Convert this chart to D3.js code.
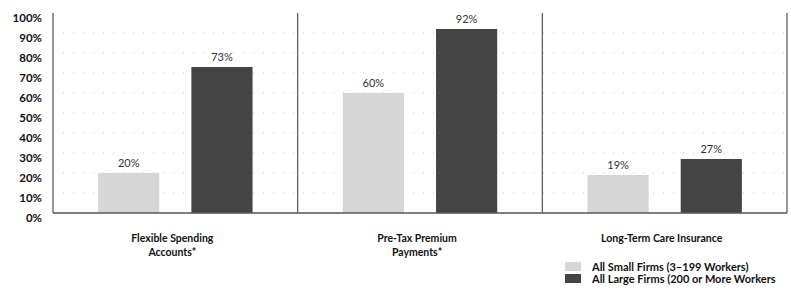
<!DOCTYPE html>
<html>
<head>
<meta charset="utf-8">
<script src="https://cdn.jsdelivr.net/npm/d3@7"></script>
<style>
  body { margin: 0; background: #fff; }
  svg { display: block; font-family: Lato, "Open Sans", sans-serif; }
</style>
</head>
<body>
<svg id="chart" width="791" height="295"></svg>
<script>
// data
const categories = [["Flexible Spending", "Accounts*"], ["Pre-Tax Premium", "Payments*"], ["Long-Term Care Insurance"]];
const seriesNames = ["All Small Firms (3\u2013199 Workers)", "All Large Firms (200 or More Workers"];
const smallFirms = [20, 60, 19];
const largeFirms = [73, 92, 27];
const yTicks = [0, 10, 20, 30, 40, 50, 60, 70, 80, 90, 100];

const colors = ["#d6d6d6", "#444444"];

let svg = d3.select("#chart");

let plotLeft = 53, plotRight = 787, plotTop = 13, plotBottom = 213;

let x0 = d3.scaleBand().domain(d3.range(categories.length)).range([plotLeft, plotRight]);
let x1 = d3.scaleBand().domain([0, 1]).range([0, x0.bandwidth()]).paddingInner(0.344).paddingOuter(0.484);
let y = d3.scaleLinear().domain([0, 100]).range([plotBottom, plotTop]);

// faint dotted grid
svg.append("g").selectAll("line").data(yTicks.filter(d => d > 0 && d < 100)).join("line")
    .attr("x1", plotLeft).attr("x2", plotRight)
    .attr("y1", d => y(d)).attr("y2", d => y(d))
    .attr("stroke", "#c8c8c8").attr("stroke-width", 1)
    .attr("stroke-dasharray", "1 9");

// y axis labels
let yAxis = d3.axisLeft(y).tickValues(yTicks).tickFormat(d => d + "%").tickSize(0).tickPadding(11);
let yg = svg.append("g").attr("transform", `translate(${plotLeft},0)`).call(yAxis);
yg.select("path").remove();
yg.selectAll("text").attr("font-size", 11.5).attr("font-weight", "bold").attr("fill", "#111")
    .attr("font-family", "Lato, sans-serif")
    .attr("dy", "0.75em");

// bars
let rows = categories.map((c, i) => [smallFirms[i], largeFirms[i]]);
let groups = svg.append("g").selectAll("g").data(rows).join("g")
    .attr("transform", (d, i) => `translate(${x0(i)},0)`);

groups.selectAll("rect").data(d => d).join("rect")
    .attr("x", (d, j) => x1(j))
    .attr("y", d => y(d))
    .attr("width", x1.bandwidth())
    .attr("height", d => y(0) - y(d))
    .attr("fill", (d, j) => colors[j]);

groups.selectAll("text").data(d => d).join("text")
    .attr("x", (d, j) => x1(j) + x1.bandwidth() / 2)
    .attr("y", d => y(d) - 6)
    .attr("text-anchor", "middle")
    .attr("font-size", 11)
    .attr("fill", "#333")
    .text(d => d + "%");

// frame: left axis, separators, baseline
svg.append("g").selectAll("line").data(d3.range(categories.length + 1)).join("line")
    .attr("x1", i => i < categories.length ? x0(i) : plotRight)
    .attr("x2", i => i < categories.length ? x0(i) : plotRight)
    .attr("y1", plotTop).attr("y2", plotBottom)
    .attr("stroke", "#555").attr("stroke-width", 1.2);
svg.append("line").attr("x1", plotLeft).attr("x2", plotRight).attr("y1", plotBottom).attr("y2", plotBottom)
    .attr("stroke", "#555").attr("stroke-width", 1.5);

// category labels
svg.append("g").selectAll("text").data(categories).join("text")
    .attr("x", (d, i) => x0(i) + x0.bandwidth() / 2 - 3)
    .attr("y", 242)
    .attr("text-anchor", "middle")
    .attr("font-size", 10.5).attr("font-weight", "bold").attr("fill", "#111")
    .selectAll("tspan").data(d => d).join("tspan")
    .attr("x", function () { return this.parentNode.getAttribute("x"); })
    .attr("dy", (d, i) => i === 0 ? 0 : 14)
    .text(d => d);

// legend
let legend = svg.append("g").selectAll("g").data(seriesNames).join("g")
    .attr("transform", (d, i) => `translate(565,${262 + i * 12})`);
legend.append("rect").attr("width", 16).attr("height", 9)
    .attr("fill", (d, i) => colors[i]);
legend.append("text").attr("x", 27).attr("y", 5).attr("dy", "0.35em")
    .attr("font-size", 11).attr("font-weight", "bold").attr("fill", "#111")
    .text(d => d);
</script>
</body>
</html>
